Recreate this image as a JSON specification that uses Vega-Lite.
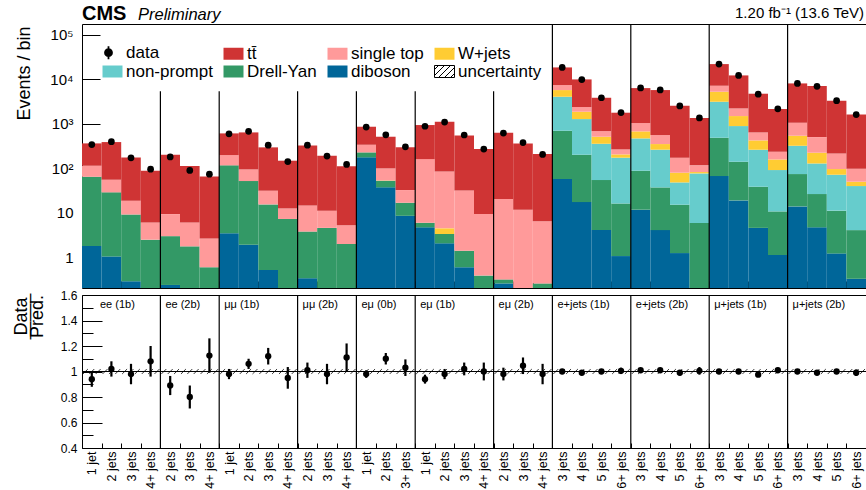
{
  "$schema": "https://vega.github.io/schema/vega-lite/v6.json",
  "padding": {"left": 11, "top": 3, "right": 0, "bottom": 0},
  "background": "white",
  "spacing": -2,
  "config": {
    "font": "Liberation Sans",
    "view": {"stroke": "black", "strokeWidth": 1},
    "axis": {"grid": false, "domain": false, "ticks": true, "tickColor": "black", "tickWidth": 1, "tickOpacity": 1, "labelColor": "black", "titleColor": "black", "labelFont": "Liberation Sans", "titleFont": "Liberation Sans", "titleFontWeight": "normal", "labelFlush": false, "labelOverlap": false, "zindex": 1},
    "text": {"font": "Liberation Sans", "color": "black"}
  },
  "datasets": {
    "bins": [
      {"lo":0,"hi":1,"c":0.5,"db":1.8,"dy":63,"np":0,"wj":0,"st":50,"tt":250,"d":343,"r":0.94,"rl":0.88,"rh":1.0},
      {"lo":1,"hi":2,"c":1.5,"db":1.05,"dy":27.9,"np":0,"wj":0,"st":26.7,"tt":335,"d":399,"r":1.02,"rl":0.96,"rh":1.08},
      {"lo":2,"hi":3,"c":2.5,"db":0.29,"dy":8.96,"np":0,"wj":0,"st":9.55,"tt":158,"d":173,"r":0.98,"rl":0.9,"rh":1.06},
      {"lo":3,"hi":4,"c":3.5,"db":0,"dy":2.5,"np":0,"wj":0,"st":3.6,"tt":82.6,"d":96,"r":1.08,"rl":0.96,"rh":1.2},
      {"lo":4,"hi":5,"c":4.5,"db":0.24,"dy":2.76,"np":0,"wj":0,"st":6.4,"tt":194,"d":181,"r":0.89,"rl":0.815,"rh":0.965},
      {"lo":5,"hi":6,"c":5.5,"db":0,"dy":1.77,"np":0,"wj":0,"st":4.33,"tt":107,"d":90,"r":0.8,"rl":0.71,"rh":0.89},
      {"lo":6,"hi":7,"c":6.5,"db":0,"dy":0.6,"np":0,"wj":0,"st":2.07,"tt":63.3,"d":74,"r":1.125,"rl":0.99,"rh":1.26},
      {"lo":7,"hi":8,"c":7.5,"db":3.5,"dy":113.5,"np":0,"wj":0,"st":82,"tt":413,"d":600,"r":0.98,"rl":0.94,"rh":1.02},
      {"lo":8,"hi":9,"c":8.5,"db":1.93,"dy":50,"np":0,"wj":0,"st":43,"tt":549,"d":683,"r":1.06,"rl":1.02,"rh":1.1},
      {"lo":9,"hi":10,"c":9.5,"db":0.52,"dy":15,"np":0,"wj":0,"st":16,"tt":265.5,"d":333,"r":1.12,"rl":1.055,"rh":1.185},
      {"lo":10,"hi":11,"c":10.5,"db":0,"dy":7.3,"np":0,"wj":0,"st":5.3,"tt":136.4,"d":142,"r":0.95,"rl":0.865,"rh":1.035},
      {"lo":11,"hi":12,"c":11.5,"db":0.34,"dy":3.46,"np":0,"wj":0,"st":10.9,"tt":314,"d":332,"r":1.01,"rl":0.95,"rh":1.07},
      {"lo":12,"hi":13,"c":12.5,"db":0,"dy":4.6,"np":0,"wj":0,"st":6.6,"tt":182,"d":189,"r":0.98,"rl":0.9,"rh":1.06},
      {"lo":13,"hi":14,"c":13.5,"db":0,"dy":2.0,"np":0,"wj":0,"st":3.3,"tt":106,"d":123,"r":1.11,"rl":1.0,"rh":1.22},
      {"lo":14,"hi":15,"c":14.5,"db":177,"dy":52,"np":0,"wj":0,"st":111,"tt":524,"d":847,"r":0.98,"rl":0.95,"rh":1.01},
      {"lo":15,"hi":16,"c":15.5,"db":37.5,"dy":15.3,"np":0,"wj":0.8,"st":46.4,"tt":415,"d":567,"r":1.1,"rl":1.055,"rh":1.145},
      {"lo":16,"hi":17,"c":16.5,"db":8.6,"dy":8.3,"np":0,"wj":0,"st":15.7,"tt":264.4,"d":306,"r":1.03,"rl":0.965,"rh":1.095},
      {"lo":17,"hi":18,"c":17.5,"db":4.73,"dy":1.27,"np":0,"wj":0,"st":156,"tt":781,"d":886,"r":0.94,"rl":0.905,"rh":0.975},
      {"lo":18,"hi":19,"c":18.5,"db":2.07,"dy":1.28,"np":0,"wj":1.15,"st":81.2,"tt":1034,"d":1098,"r":0.98,"rl":0.94,"rh":1.02},
      {"lo":19,"hi":20,"c":19.5,"db":0.6,"dy":0.81,"np":0,"wj":0,"st":30.6,"tt":520,"d":563,"r":1.02,"rl":0.97,"rh":1.07},
      {"lo":20,"hi":21,"c":20.5,"db":0,"dy":0.39,"np":0,"wj":0,"st":9.0,"tt":262.6,"d":272,"r":1.0,"rl":0.93,"rh":1.07},
      {"lo":21,"hi":22,"c":21.5,"db":0.26,"dy":0.06,"np":0,"wj":0,"st":20.2,"tt":613.5,"d":621,"r":0.98,"rl":0.93,"rh":1.03},
      {"lo":22,"hi":23,"c":22.5,"db":0,"dy":0,"np":0,"wj":0,"st":11.8,"tt":353,"d":381,"r":1.045,"rl":0.98,"rh":1.11},
      {"lo":23,"hi":24,"c":23.5,"db":0,"dy":0.26,"np":0,"wj":0,"st":6.2,"tt":203.5,"d":206,"r":0.98,"rl":0.9,"rh":1.06},
      {"lo":24,"hi":25,"c":24.5,"db":57.7,"dy":645,"np":3377,"wj":1680,"st":1700,"tt":11140,"d":18600,"r":1.0,"rl":0.992,"rh":1.008},
      {"lo":25,"hi":26,"c":25.5,"db":17.5,"dy":185.5,"np":1081,"wj":593,"st":513,"tt":7610,"d":9900,"r":0.99,"rl":0.98,"rh":1.0},
      {"lo":26,"hi":27,"c":26.5,"db":4.1,"dy":50.6,"np":303,"wj":157,"st":175,"tt":3180,"d":3870,"r":1.0,"rl":0.985,"rh":1.015},
      {"lo":27,"hi":28,"c":27.5,"db":1.07,"dy":15.2,"np":158,"wj":32,"st":61,"tt":1518,"d":1794,"r":1.005,"rl":0.98,"rh":1.03},
      {"lo":28,"hi":29,"c":28.5,"db":11.8,"dy":76.9,"np":383,"wj":207,"st":366,"tt":5335,"d":6444,"r":1.01,"rl":0.998,"rh":1.022},
      {"lo":29,"hi":30,"c":29.5,"db":4.1,"dy":33.3,"np":226,"wj":89,"st":209,"tt":5200,"d":5818,"r":1.01,"rl":0.997,"rh":1.023},
      {"lo":30,"hi":31,"c":30.5,"db":1.25,"dy":14.05,"np":33.1,"wj":31.6,"st":94,"tt":2386,"d":2534,"r":0.99,"rl":0.97,"rh":1.01},
      {"lo":31,"hi":32,"c":31.5,"db":0,"dy":5.9,"np":71.3,"wj":5.6,"st":34.2,"tt":1238,"d":1362,"r":1.005,"rl":0.975,"rh":1.035},
      {"lo":32,"hi":33,"c":32.5,"db":67.3,"dy":422,"np":2661,"wj":2130,"st":1930,"tt":14890,"d":22100,"r":1.0,"rl":0.993,"rh":1.007},
      {"lo":33,"hi":34,"c":33.5,"db":19.1,"dy":122,"np":753,"wj":606,"st":730,"tt":10070,"d":12300,"r":1.0,"rl":0.991,"rh":1.009},
      {"lo":34,"hi":35,"c":34.5,"db":4.6,"dy":34.1,"np":224,"wj":163,"st":218,"tt":4126,"d":4650,"r":0.975,"rl":0.961,"rh":0.989},
      {"lo":35,"hi":36,"c":35.5,"db":1.13,"dy":9.67,"np":81,"wj":67,"st":78,"tt":1923,"d":2182,"r":1.01,"rl":0.99,"rh":1.03},
      {"lo":36,"hi":37,"c":36.5,"db":14,"dy":60.6,"np":248,"wj":219,"st":520,"tt":7068,"d":8130,"r":1.0,"rl":0.99,"rh":1.01},
      {"lo":37,"hi":38,"c":37.5,"db":4.73,"dy":21.8,"np":102.5,"wj":96,"st":281,"tt":6574,"d":7009,"r":0.99,"rl":0.978,"rh":1.002},
      {"lo":38,"hi":39,"c":38.5,"db":1.23,"dy":10,"np":60.8,"wj":24.6,"st":120,"tt":3103,"d":3320,"r":1.0,"rl":0.983,"rh":1.017},
      {"lo":39,"hi":40,"c":39.5,"db":0.33,"dy":3.77,"np":36,"wj":10.1,"st":48.2,"tt":1537,"d":1619,"r":0.99,"rl":0.965,"rh":1.015}
    ],
    "ch": [
      {"ch":"ee (1b)","s":0},{"ch":"ee (2b)","s":4},{"ch":"μμ (1b)","s":7},{"ch":"μμ (2b)","s":11},
      {"ch":"eμ (0b)","s":14},{"ch":"eμ (1b)","s":17},{"ch":"eμ (2b)","s":21},
      {"ch":"e+jets (1b)","s":24},{"ch":"e+jets (2b)","s":28},{"ch":"μ+jets (1b)","s":32},{"ch":"μ+jets (2b)","s":36}
    ],
    "sep": [
      {"s":4,"top":5400},{"s":7,"top":5400},{"s":11,"top":5400},{"s":14,"top":5400},{"s":17,"top":5400},{"s":21,"top":5400},
      {"s":24,"top":1000000},{"s":28,"top":1000000},{"s":32,"top":1000000},{"s":36,"top":1000000}
    ]
  },
  "vconcat": [
    {
      "width": 784,
      "height": 264,
      "layer": [
        {
          "data": {"name": "bins"},
          "transform": [
            {"fold": ["db","dy","np","wj","st","tt"], "as": ["p","v"]},
            {"stack": "v", "groupby": ["lo"], "as": ["v0","v1"]}
          ],
          "mark": {"type": "bar"},
          "encoding": {
            "x": {"field": "lo", "type": "quantitative",
              "scale": {"domain": [0,40], "nice": false, "zero": false},
              "axis": {"values": [1,2,3,4,5,6,7,8,9,10,11,12,13,14,15,16,17,18,19,20,21,22,23,24,25,26,27,28,29,30,31,32,33,34,35,36,37,38,39], "tickCount": 40, "labels": false, "tickSize": -7, "title": null, "minExtent": 0, "maxExtent": 0}},
            "x2": {"field": "hi"},
            "y": {"field": "v1", "type": "quantitative",
              "scale": {"type": "log", "domain": [0.205, 176000], "clamp": true, "nice": false},
              "axis": {
                "values": [1,10,100,1000,10000,100000],
                "tickCount": 6,
                "labelExpr": "datum.value == 1 ? '1' : datum.value == 10 ? '10' : datum.value == 100 ? '10²' : datum.value == 1000 ? '10³' : datum.value == 10000 ? '10⁴' : datum.value == 100000 ? '10⁵' : ''",
                "tickSize": -18,
                "labelPadding": 27,
                "labelFontSize": 15,
                "labelOverlap": false,
                "title": "Events / bin",
                "titleFontSize": 18,
                "titleAngle": 270,
                "titleAlign": "right",
                "titleBaseline": "alphabetic",
                "titleX": -53,
                "titleY": 2
              }},
            "y2": {"field": "v0"},
            "color": {"field": "p", "type": "nominal",
              "scale": {"domain": ["data","tt","st","wj","np","dy","db","unc"], "range": ["black","#cf3434","#ff9a9a","#ffcc33","#66cccc","#339966","#006699","white"]},
              "legend": {
                "orient": "none", "legendX": 22, "legendY": 20, "columns": 4, "direction": "horizontal",
                "title": null, "padding": 0, "labelFontSize": 17, "labelColor": "black", "labelFont": "Liberation Sans",
                "columnPadding": 8, "rowPadding": -9, "symbolSize": 400, "labelOffset": 5,
                "labelExpr": "datum.value == 'data' ? 'data' : datum.value == 'tt' ? 'tt̄' : datum.value == 'st' ? 'single top' : datum.value == 'wj' ? 'W+jets' : datum.value == 'np' ? 'non-prompt' : datum.value == 'dy' ? 'Drell-Yan' : datum.value == 'db' ? 'diboson' : 'uncertainty'",
                "encode": {"symbols": {"update": {
                  "shape": {"signal": "datum.value == 'data' ? 'M-0.4,-0.65V0.65M-0.75,0A0.35,0.35 0 1,0 -0.05,0A0.35,0.35 0 1,0 -0.75,0Z' : datum.value == 'unc' ? 'M-1,-0.6H1V0.6H-1ZM-1,-0.2L-0.6,-0.6M-1,0.4L0,-0.6M-0.6,0.6L0.6,-0.6M0,0.6L1,-0.4M0.6,0.6L1,0.2' : 'M-1,-0.6H1V0.6H-1Z'"},
                  "size": {"value": 400},
                  "stroke": {"signal": "datum.value == 'unc' || datum.value == 'data' ? 'black' : 'transparent'"},
                  "strokeWidth": {"signal": "datum.value == 'data' ? 1.8 : 1"},
                  "opacity": {"value": 1},
                  "fillOpacity": {"value": 1}
                }}}
              }}
          }
        },
        {
          "data": {"name": "sep"},
          "mark": {"type": "rule", "color": "black", "strokeWidth": 1.2},
          "encoding": {
            "x": {"field": "s", "type": "quantitative"},
            "y": {"field": "top", "type": "quantitative"},
            "y2": {"datum": 0.1}
          }
        },
        {
          "data": {"name": "bins"},
          "mark": {"type": "point", "filled": true, "color": "black", "size": 45, "opacity": 1},
          "encoding": {
            "x": {"field": "c", "type": "quantitative"},
            "y": {"field": "d", "type": "quantitative"}
          }
        },
        {
          "data": {"values": [{}]},
          "mark": {"type": "text", "text": "CMS", "fontWeight": "bold", "fontSize": 20, "align": "left", "baseline": "alphabetic", "dy": -4},
          "encoding": {"x": {"datum": 0, "type": "quantitative"}, "y": {"datum": 10000000, "type": "quantitative"}}
        },
        {
          "data": {"values": [{}]},
          "mark": {"type": "text", "text": "Preliminary", "fontStyle": "italic", "fontSize": 16.5, "align": "left", "baseline": "alphabetic", "dx": 56, "dy": -4},
          "encoding": {"x": {"datum": 0, "type": "quantitative"}, "y": {"datum": 10000000, "type": "quantitative"}}
        },
        {
          "data": {"values": [{}]},
          "mark": {"type": "text", "text": "1.20 fb⁻¹ (13.6 TeV)", "fontSize": 15, "align": "right", "baseline": "alphabetic", "dx": -2, "dy": -6},
          "encoding": {"x": {"datum": 40, "type": "quantitative"}, "y": {"datum": 10000000, "type": "quantitative"}}
        }
      ]
    },
    {
      "width": 784,
      "height": 153,
      "layer": [
        {
          "data": {"name": "bins"},
          "mark": {"type": "point", "filled": true, "color": "black", "size": 40, "opacity": 1},
          "encoding": {
            "x": {"field": "c", "type": "quantitative",
              "scale": {"domain": [0,40], "nice": false, "zero": false},
              "axis": {
                "values": [0,1,2,3,4,5,6,7,8,9,10,11,12,13,14,15,16,17,18,19,20,21,22,23,24,25,26,27,28,29,30,31,32,33,34,35,36,37,38,39],
                "tickCount": 40,
                "labelExpr": "datum.value < 40 ? ['1 jet','2 jets','3 jets','4+ jets','2 jets','3 jets','4+ jets','1 jet','2 jets','3 jets','4+ jets','2 jets','3 jets','4+ jets','1 jet','2 jets','3+ jets','1 jet','2 jets','3 jets','4+ jets','2 jets','3 jets','4+ jets','3 jets','4 jets','5 jets','6+ jets','3 jets','4 jets','5 jets','6+ jets','3 jets','4 jets','5 jets','6+ jets','3 jets','4 jets','5 jets','6+ jets'][datum.value] : ''",
                "labelOffset": 9.8,
                "labelAngle": 270,
                "labelAlign": "right",
                "labelBaseline": "middle",
                "labelFontSize": 12.5,
                "labelOverlap": false,
                "tickSize": -5,
                "labelPadding": 8,
                "title": null
              }},
            "y": {"field": "r", "type": "quantitative",
              "scale": {"domain": [0.4, 1.6], "nice": false, "zero": false},
              "axis": {
                "values": [0.4,0.45,0.5,0.55,0.6,0.65,0.7,0.75,0.8,0.85,0.9,0.95,1,1.05,1.1,1.15,1.2,1.25,1.3,1.35,1.4,1.45,1.5,1.55,1.6],
                "tickCount": 24,
                "format": "~g",
                "labelExpr": "indexof([0.4,0.6,0.8,1,1.2,1.4,1.6], datum.value) >= 0 ? datum.label : ''",
                "tickSize": {"condition": {"test": "indexof([0.4,0.6,0.8,1,1.2,1.4,1.6], datum.value) >= 0", "value": -20}, "value": -11},
                "labelOverlap": false,
                "labelPadding": 25,
                "labelFontSize": 12,
                "title": ["Data", "——–", "Pred."],
                "titleFontSize": 18,
                "titleLineHeight": 8,
                "titleAngle": 270,
                "titleAlign": "center",
                "titleBaseline": "alphabetic",
                "titleX": -56,
                "titleY": 21
              }}
          }
        },
        {
          "data": {"name": "bins"},
          "mark": {"type": "point", "shape": "M-0.9,0.25L-0.4,-0.25M-0.25,0.25L0.25,-0.25M0.4,0.25L0.9,-0.25", "size": 384, "filled": false, "stroke": "black", "strokeWidth": 0.8, "opacity": 1},
          "encoding": {
            "x": {"field": "c", "type": "quantitative"},
            "y": {"datum": 1, "type": "quantitative"}
          }
        },
        {
          "data": {"values": [{}]},
          "mark": {"type": "rule", "color": "black", "strokeWidth": 1},
          "encoding": {"y": {"datum": 1, "type": "quantitative"}}
        },
        {
          "data": {"name": "sep"},
          "mark": {"type": "rule", "color": "black", "strokeWidth": 1.2},
          "encoding": {"x": {"field": "s", "type": "quantitative"}}
        },
        {
          "data": {"name": "ch"},
          "transform": [{"filter": "datum.s > 0"}],
          "mark": {"type": "text", "align": "left", "baseline": "top", "dx": 5, "dy": 4, "fontSize": 11},
          "encoding": {
            "x": {"field": "s", "type": "quantitative"},
            "y": {"datum": 1.6, "type": "quantitative"},
            "text": {"field": "ch"}
          }
        },
        {
          "data": {"name": "ch"},
          "transform": [{"filter": "datum.s == 0"}],
          "mark": {"type": "text", "align": "left", "baseline": "top", "dx": 18, "dy": 4, "fontSize": 11},
          "encoding": {
            "x": {"field": "s", "type": "quantitative"},
            "y": {"datum": 1.6, "type": "quantitative"},
            "text": {"field": "ch"}
          }
        },
        {
          "data": {"name": "bins"},
          "mark": {"type": "rule", "strokeWidth": 2.2, "color": "black"},
          "encoding": {
            "x": {"field": "c", "type": "quantitative"},
            "y": {"field": "rl", "type": "quantitative"},
            "y2": {"field": "rh"}
          }
        }
      ]
    }
  ]
}
